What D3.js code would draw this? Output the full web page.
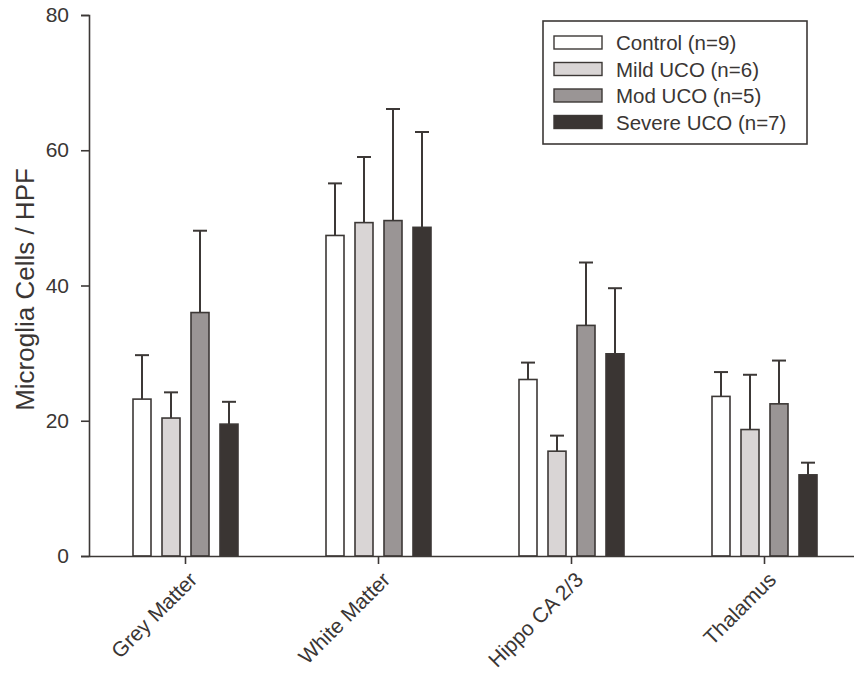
<!DOCTYPE html>
<html>
<head>
<meta charset="utf-8">
<script src="https://cdn.jsdelivr.net/npm/d3@7"></script>
<style>
  html, body { margin: 0; padding: 0; background: #fff; }
  text { font-family: "Liberation Sans", Arial, sans-serif; fill: #3a3634; }
</style>
</head>
<body>
<svg id="chart" width="854" height="674"></svg>
<script>
const categories = ["Grey Matter", "White Matter", "Hippo CA 2/3", "Thalamus"];
const seriesNames = ["Control (n=9)", "Mild UCO (n=6)", "Mod UCO (n=5)", "Severe UCO (n=7)"];
const seriesColors = ["#ffffff", "#d9d5d5", "#9a9595", "#3a3533"];
// means per series, by category
const controlMean = [23.2, 47.4, 26.1, 23.6];
const mildMean    = [20.4, 49.3, 15.5, 18.7];
const modMean     = [36.0, 49.6, 34.1, 22.5];
const severeMean  = [19.5, 48.6, 29.9, 12.0];
// upper error bar ends (mean + SEM)
const controlErr = [29.7, 55.1, 28.6, 27.2];
const mildErr    = [24.2, 59.0, 17.8, 26.8];
const modErr     = [48.1, 66.1, 43.4, 28.9];
const severeErr  = [22.8, 62.7, 39.6, 13.8];
const yTicks = [0, 20, 40, 60, 80];

const means = [controlMean, mildMean, modMean, severeMean];
const errs = [controlErr, mildErr, modErr, severeErr];

const svg = d3.select("#chart");
const stroke = "#3c3836";
const mLeft = 89, mTop = 15, mBottom = 556, mRightEnd = 861;

const y = d3.scaleLinear().domain([0, 80]).range([mBottom, mTop]);
const x0 = d3.scaleBand().domain(categories).range([mLeft, mRightEnd]).padding(0);
const inner = 116;
const x1 = d3.scaleBand().domain(seriesNames)
  .range([x0.bandwidth() / 2 - inner / 2, x0.bandwidth() / 2 + inner / 2])
  .paddingInner(0.3793).paddingOuter(0.3793 / 2);

const data = [];
categories.forEach((c, ci) => {
  seriesNames.forEach((s, si) => {
    data.push({ c, s, si, v: means[si][ci], e: errs[si][ci] });
  });
});

const g = svg.append("g");
const cx = d => x0(d.c) + x1(d.s) + x1.bandwidth() / 2;
g.selectAll("line.err").data(data).enter().append("line")
  .attr("x1", cx).attr("x2", cx)
  .attr("y1", d => y(d.v)).attr("y2", d => y(d.e))
  .attr("stroke", stroke).attr("stroke-width", 2);
g.selectAll("line.cap").data(data).enter().append("line")
  .attr("x1", d => cx(d) - 7).attr("x2", d => cx(d) + 7)
  .attr("y1", d => y(d.e)).attr("y2", d => y(d.e))
  .attr("stroke", stroke).attr("stroke-width", 2);
g.selectAll("rect.bar").data(data).enter().append("rect")
  .attr("x", d => x0(d.c) + x1(d.s))
  .attr("width", x1.bandwidth())
  .attr("y", d => y(d.v))
  .attr("height", d => y(0) - y(d.v))
  .attr("fill", d => seriesColors[d.si])
  .attr("stroke", stroke).attr("stroke-width", 1.6);

// y axis
const yAxis = svg.append("g").attr("transform", `translate(${mLeft},0)`)
  .call(d3.axisLeft(y).tickValues(yTicks).tickSize(8).tickPadding(12));
yAxis.select(".domain").attr("stroke", stroke).attr("stroke-width", 1.6);
yAxis.selectAll(".tick line").attr("stroke", stroke).attr("stroke-width", 1.6);
yAxis.selectAll(".tick text").attr("font-size", 21).attr("fill", "#3a3634")
  .style("font-family", '"Liberation Sans", Arial, sans-serif');

// x axis
const xAxis = svg.append("g").attr("transform", `translate(0,${mBottom})`)
  .call(d3.axisBottom(x0).tickSize(8).tickSizeOuter(0).tickFormat(""));
xAxis.select(".domain").attr("stroke", stroke).attr("stroke-width", 1.6);
xAxis.selectAll(".tick line").attr("stroke", stroke).attr("stroke-width", 1.6);
svg.append("g").selectAll("text.cat").data(categories).enter().append("text")
  .attr("transform", d => `translate(${x0(d) + x0.bandwidth() / 2 + 13},${mBottom + 25}) rotate(-45)`)
  .attr("text-anchor", "end")
  .attr("font-size", 21)
  .text(d => d);

// y title
svg.append("text")
  .attr("transform", `translate(34,${(mTop + mBottom) / 2 + 4}) rotate(-90)`)
  .attr("text-anchor", "middle")
  .attr("font-size", 26)
  .text("Microglia Cells / HPF");

// legend
const lg = svg.append("g");
lg.append("rect").attr("x", 543).attr("y", 21).attr("width", 264).attr("height", 123)
  .attr("fill", "#fff").attr("stroke", stroke).attr("stroke-width", 1.6);
const rows = lg.selectAll("g.row").data(seriesNames).enter().append("g")
  .attr("transform", (d, i) => `translate(554,${36 + i * 26.5})`);
rows.append("rect").attr("x", 0).attr("y", 0).attr("width", 48).attr("height", 13)
  .attr("fill", (d, i) => seriesColors[i]).attr("stroke", stroke).attr("stroke-width", 1.4);
rows.append("text").attr("x", 62).attr("y", 14).attr("font-size", 20.5).text(d => d);
</script>
</body>
</html>
